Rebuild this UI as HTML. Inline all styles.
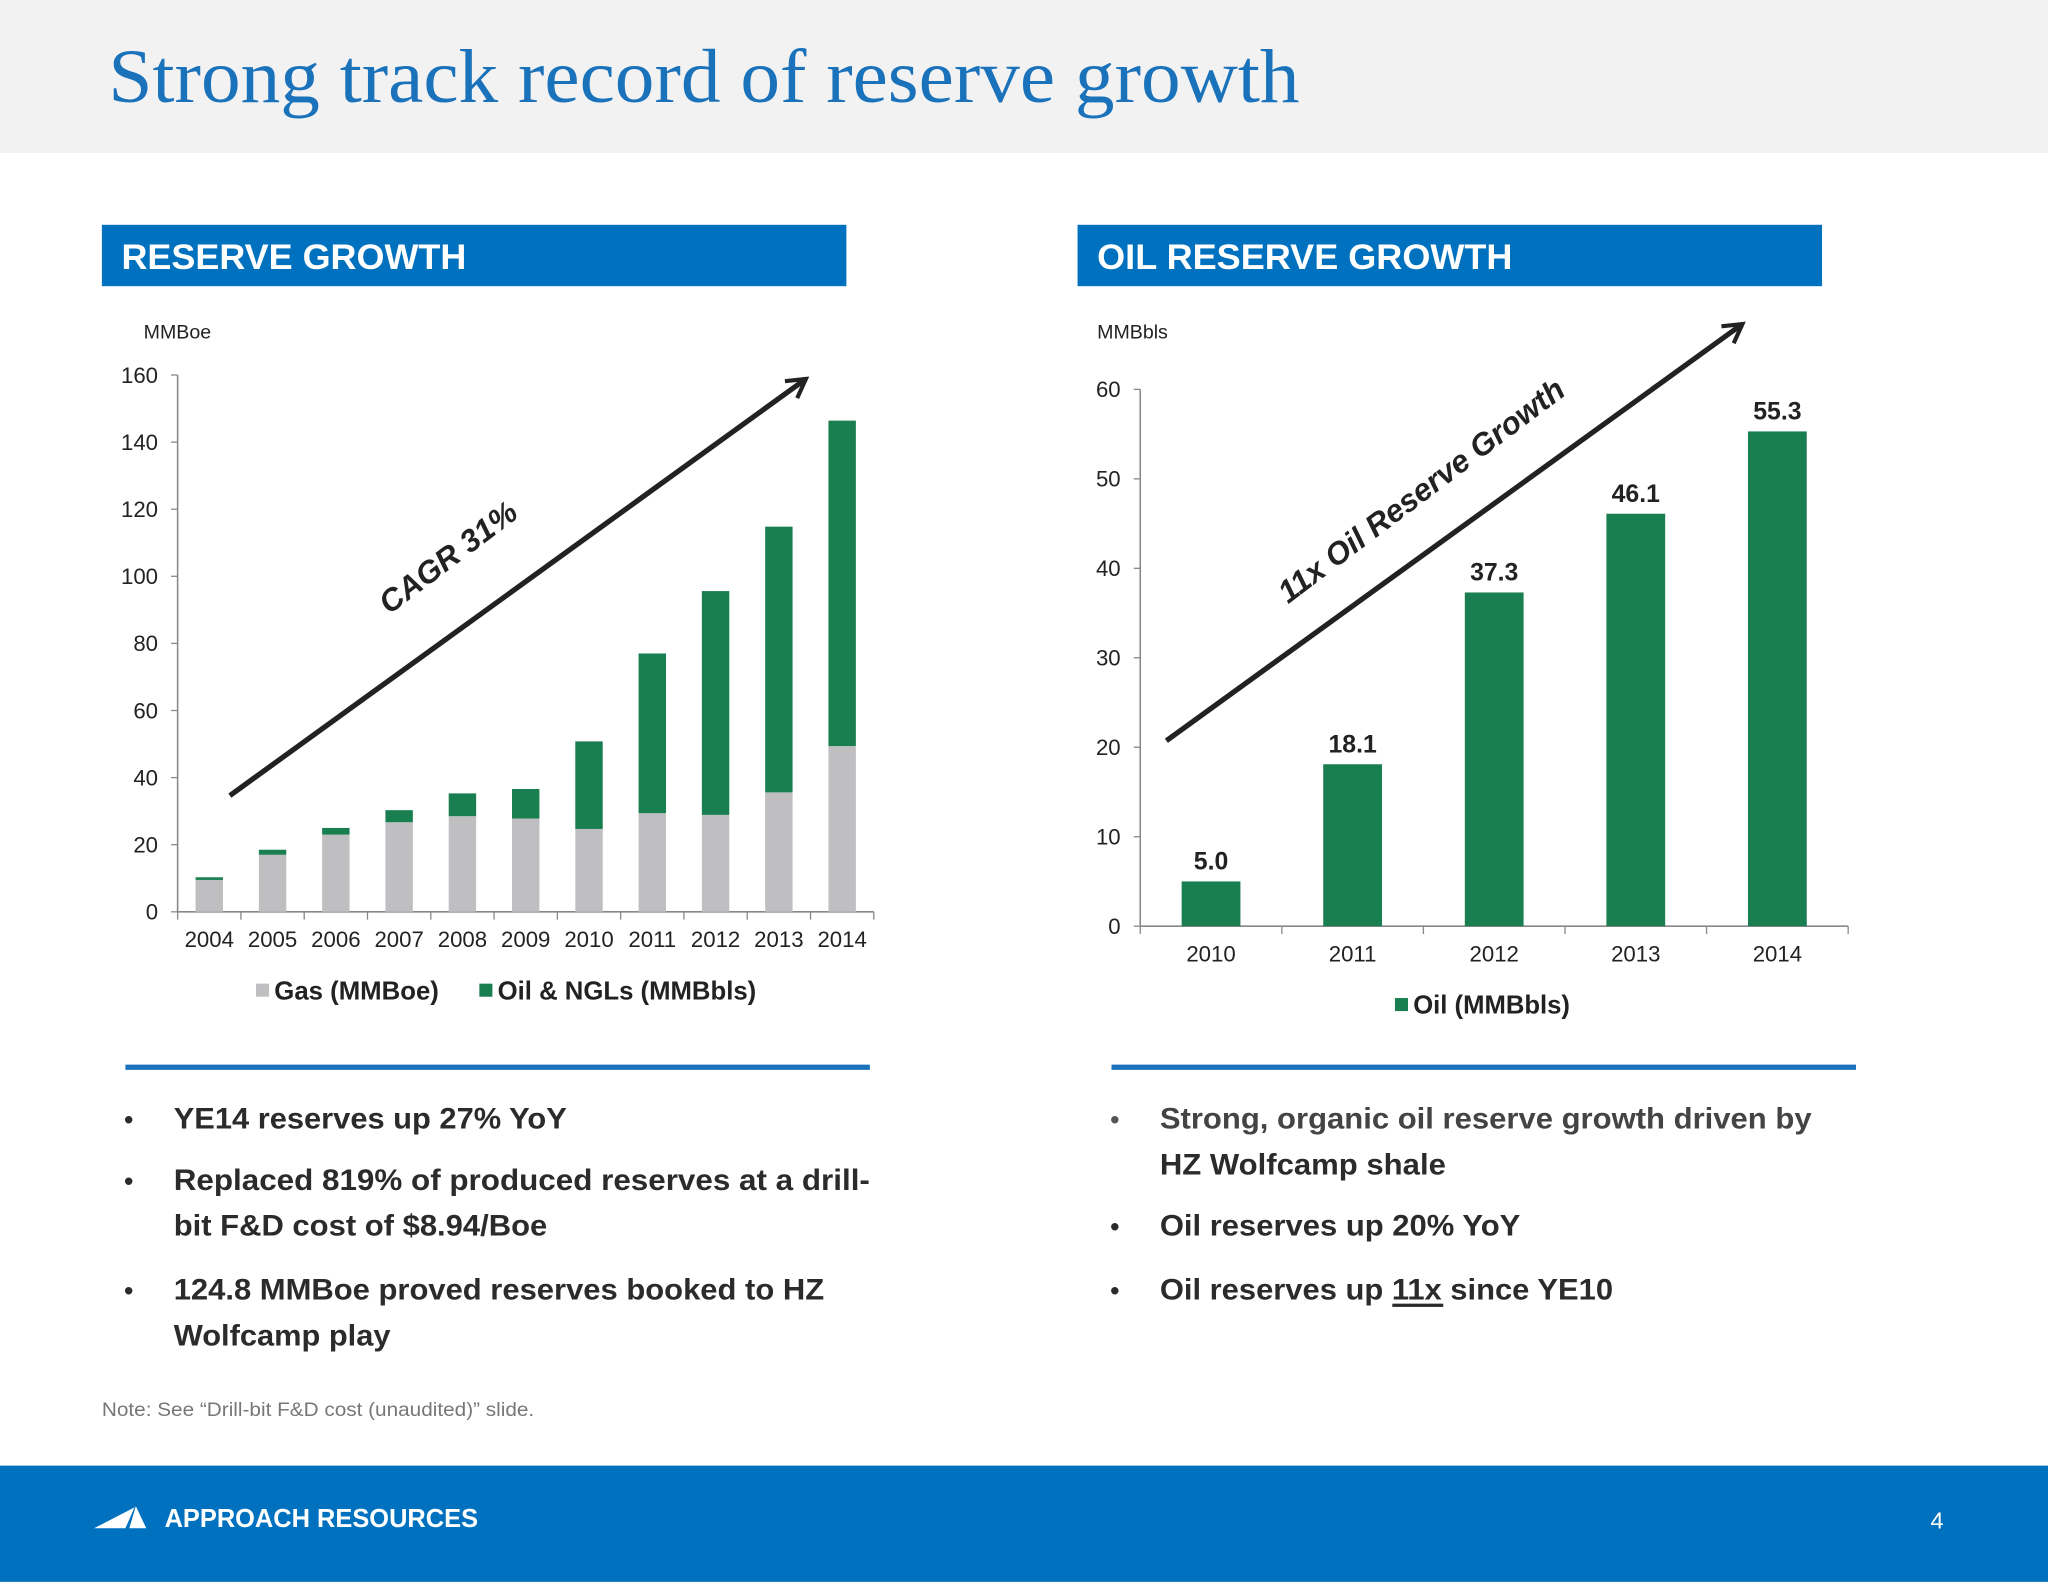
<!DOCTYPE html>
<html><head><meta charset="utf-8"><style>
html,body{margin:0;padding:0;background:#fff;}
svg{display:block;font-family:"Liberation Sans",sans-serif;}
</style></head><body>
<svg id="s" width="2048" height="1582" viewBox="0 0 1568 1211" xmlns="http://www.w3.org/2000/svg">
<rect x="0" y="0" width="1568" height="117" fill="#f2f2f2"/>
<text x="83" y="78" font-family="Liberation Serif,serif" font-size="58" fill="#1a72bb" textLength="912" lengthAdjust="spacingAndGlyphs">Strong track record of reserve growth</text>

<rect x="78" y="172" width="570" height="47" fill="#0071bf"/>
<text x="93" y="206" font-size="27" font-weight="bold" fill="#fff" textLength="264" lengthAdjust="spacingAndGlyphs">RESERVE GROWTH</text>
<rect x="825" y="172" width="570" height="47" fill="#0071bf"/>
<text x="840" y="206" font-size="27" font-weight="bold" fill="#fff" textLength="318" lengthAdjust="spacingAndGlyphs">OIL RESERVE GROWTH</text>

<text x="110" y="259" font-size="15" fill="#222">MMBoe</text>
<text x="840" y="259" font-size="15" fill="#222">MMBbls</text>

<g id="left"></g>
<g id="right"></g>

<defs><marker id="ah" viewBox="0 0 10 10" refX="8" refY="5" markerWidth="5" markerHeight="5" orient="auto"><path d="M1,1 L8,5 L1,9" fill="none" stroke="#222" stroke-width="1.6"/></marker></defs>
<line x1="176" y1="609" x2="617" y2="290" stroke="#222" stroke-width="4" marker-end="url(#ah)"/>
<text transform="translate(348,433) rotate(-37)" text-anchor="middle" font-size="24" font-weight="bold" font-style="italic" fill="#222">CAGR 31%</text>
<line x1="893" y1="567" x2="1334" y2="248" stroke="#222" stroke-width="4" marker-end="url(#ah)"/>
<text transform="translate(1093,382) rotate(-37)" text-anchor="middle" font-size="24" font-weight="bold" font-style="italic" fill="#222">11x Oil Reserve Growth</text>

<rect x="196" y="753" width="10" height="10" fill="#bfbfc1"/>
<text x="210" y="765" font-size="20" font-weight="bold" fill="#222" textLength="126" lengthAdjust="spacingAndGlyphs">Gas (MMBoe)</text>
<rect x="367" y="753" width="10" height="10" fill="#1a7f50"/>
<text x="381" y="765" font-size="20" font-weight="bold" fill="#222" textLength="198" lengthAdjust="spacingAndGlyphs">Oil &amp; NGLs (MMBbls)</text>
<rect x="1068" y="764" width="10" height="10" fill="#1a7f50"/>
<text x="1082" y="776" font-size="20" font-weight="bold" fill="#222" textLength="120" lengthAdjust="spacingAndGlyphs">Oil (MMBbls)</text>

<rect x="96" y="815" width="570" height="4" fill="#1a72bb"/>
<rect x="851" y="815" width="570" height="4" fill="#1a72bb"/>

<g font-size="23" font-weight="bold" fill="#2b2b2b">
<text x="95" y="864" font-size="20">•</text><text x="133" y="864" textLength="301" lengthAdjust="spacingAndGlyphs">YE14 reserves up 27% YoY</text>
<text x="95" y="911" font-size="20">•</text><text x="133" y="911" textLength="533" lengthAdjust="spacingAndGlyphs">Replaced 819%  of produced reserves at a drill-</text>
<text x="133" y="946" textLength="286" lengthAdjust="spacingAndGlyphs">bit F&amp;D cost of $8.94/Boe</text>
<text x="95" y="995" font-size="20">•</text><text x="133" y="995" textLength="498" lengthAdjust="spacingAndGlyphs">124.8 MMBoe proved reserves booked to HZ</text>
<text x="133" y="1030" textLength="166" lengthAdjust="spacingAndGlyphs">Wolfcamp play</text>
</g>
<g font-size="23" font-weight="bold" fill="#2b2b2b">
<text x="850" y="864" font-size="20" fill="#555">•</text><text x="888" y="864" fill="#444" textLength="499" lengthAdjust="spacingAndGlyphs">Strong, organic oil reserve growth driven by</text>
<text x="888" y="899" textLength="219" lengthAdjust="spacingAndGlyphs">HZ Wolfcamp shale</text>
<text x="850" y="946" font-size="20">•</text><text x="888" y="946" textLength="276" lengthAdjust="spacingAndGlyphs">Oil reserves up 20% YoY</text>
<text x="850" y="995" font-size="20">•</text><text x="888" y="995" textLength="347" lengthAdjust="spacingAndGlyphs">Oil reserves up 11x since YE10</text>
<rect x="1066" y="998" width="39" height="2.5" fill="#2b2b2b"/>
</g>
<text x="78" y="1084" font-size="15" fill="#777" textLength="331" lengthAdjust="spacingAndGlyphs">Note: See “Drill-bit F&amp;D cost (unaudited)” slide.</text>

<rect x="0" y="1122" width="1568" height="89" fill="#0071bf"/>
<g fill="#fff">
<polygon points="72,1170 103,1154 96,1170"/><polygon points="99,1170 104,1153 112,1170"/>
</g>
<text x="126" y="1169" font-size="20" font-weight="bold" fill="#fff" textLength="240" lengthAdjust="spacingAndGlyphs">APPROACH RESOURCES</text>
<text x="1478" y="1170" font-size="18" fill="#fff">4</text>
</svg>
<script>
const leftYears=["2004","2005","2006","2007","2008","2009","2010","2011","2012","2013","2014"];
const leftGas=[9.5,17,23,26.7,28.5,27.8,24.7,29.4,28.9,35.6,49.4];
const leftOil=[0.8,1.5,2,3.6,6.8,8.8,26.1,47.6,66.7,79.2,97];
const leftTicks=[0,20,40,60,80,100,120,140,160];
const rightYears=["2010","2011","2012","2013","2014"];
const rightOil=[5.0,18.1,37.3,46.1,55.3];
const rightLabels=["5.0","18.1","37.3","46.1","55.3"];
const rightTicks=[0,10,20,30,40,50,60];
const NS="http://www.w3.org/2000/svg";
function mk(p,t,a){const e=document.createElementNS(NS,t);for(const k in a)e.setAttribute(k,a[k]);p.appendChild(e);return e;}
(function(){
const g=document.getElementById('left');
const x0=136,x1=669,y0=698,y1=287,max=160;
const y=v=>y0-(y0-y1)*v/max;
const bw=(x1-x0)/leftYears.length;
const ax=mk(g,'line',{x1:x0,y1:y1,x2:x0,y2:y0,stroke:'#888','stroke-width':1.2});


const bx=mk(g,'line',{x1:x0,y1:y0,x2:x1,y2:y0,stroke:'#888','stroke-width':1.2});


leftTicks.forEach(t=>{
 mk(g,'line',{x1:x0-5,y1:y(t),x2:x0,y2:y(t),stroke:'#888','stroke-width':1});
 const tx=mk(g,'text',{x:x0-15,y:y(t)+6,'text-anchor':'end','font-size':17,fill:'#222'});tx.textContent=t;
 
 
});
for(let i=0;i<=leftYears.length;i++)mk(g,'line',{x1:x0+i*bw,y1:y0,x2:x0+i*bw,y2:y0+6,stroke:'#888','stroke-width':1});
leftYears.forEach((yr,i)=>{
 const cx=x0+bw*(i+0.5);
 const r1=mk(g,'rect',{x:cx-10.5,y:y(leftGas[i]),width:21,height:y0-y(leftGas[i]),fill:'#bfbfc1'});
 
 
 const r2=mk(g,'rect',{x:cx-10.5,y:y(leftGas[i]+leftOil[i]),width:21,height:y(leftGas[i])-y(leftGas[i]+leftOil[i]),fill:'#1a7f50'});
 
 
 const tx=mk(g,'text',{x:cx,y:y0+27,'text-anchor':'middle','font-size':17,fill:'#222'});tx.textContent=yr;
 
 
});
})();
(function(){
const g=document.getElementById('right');
const x0=873,x1=1415,y0=709,y1=298,max=60;
const y=v=>y0-(y0-y1)*v/max;
const bw=(x1-x0)/rightYears.length;
const ax=mk(g,'line',{x1:x0,y1:y1,x2:x0,y2:y0,stroke:'#888','stroke-width':1.2});


const bx=mk(g,'line',{x1:x0,y1:y0,x2:x1,y2:y0,stroke:'#888','stroke-width':1.2});


rightTicks.forEach(t=>{
 mk(g,'line',{x1:x0-5,y1:y(t),x2:x0,y2:y(t),stroke:'#888','stroke-width':1});
 const tx=mk(g,'text',{x:x0-15,y:y(t)+6,'text-anchor':'end','font-size':17,fill:'#222'});tx.textContent=t;
 
 
});
for(let i=0;i<=rightYears.length;i++)mk(g,'line',{x1:x0+i*bw,y1:y0,x2:x0+i*bw,y2:y0+6,stroke:'#888','stroke-width':1});
rightYears.forEach((yr,i)=>{
 const cx=x0+bw*(i+0.5);
 const r=mk(g,'rect',{x:cx-22.5,y:y(rightOil[i]),width:45,height:y0-y(rightOil[i]),fill:'#1a7f50'});
 
 
 const v=mk(g,'text',{x:cx,y:y(rightOil[i])-9,'text-anchor':'middle','font-size':19,'font-weight':'bold',fill:'#222'});v.textContent=rightLabels[i];
 
 
 const tx=mk(g,'text',{x:cx,y:y0+27,'text-anchor':'middle','font-size':17,fill:'#222'});tx.textContent=yr;
 
 
});
})();
</script>
</body></html>
